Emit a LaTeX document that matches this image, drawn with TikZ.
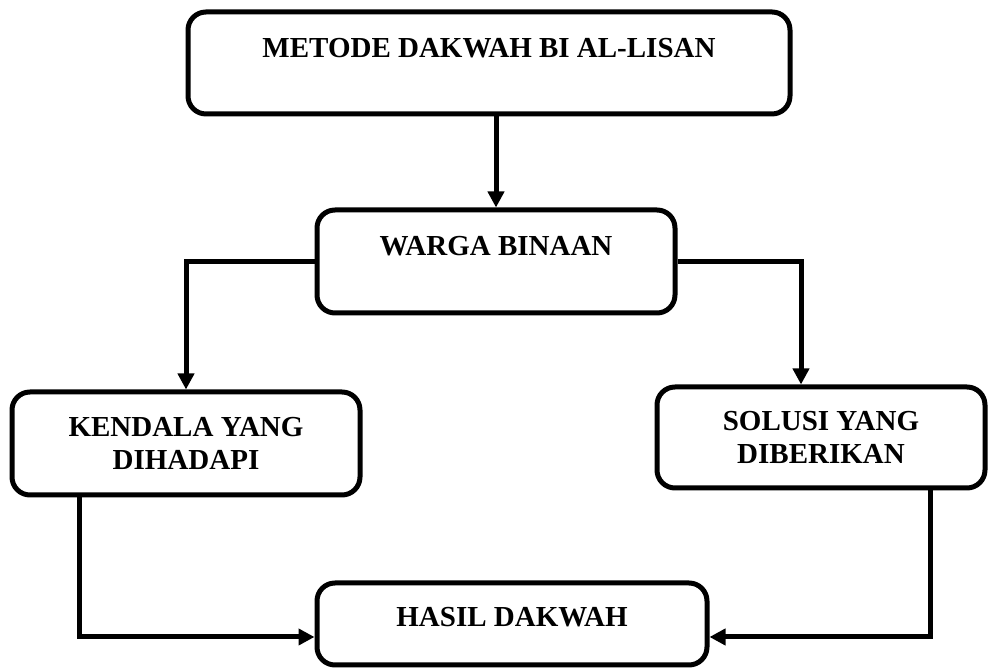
\documentclass[tikz,border=0pt]{standalone}
\usepackage{fontspec}
\setmainfont{Liberation Serif}
\usepackage{tikz}
\usetikzlibrary{arrows.meta}
\usetikzlibrary{calc}
\tikzset{
	>={Triangle[length=16pt, width=16pt]},
	box/.style={draw=black, line width=5pt, rounded corners=18pt, fill=white,
		inner sep=0pt, align=center, font=\fontsize{29}{33}\selectfont\bfseries},
	flow/.style={black, line width=5pt, ->},
}

\begin{document}
\begin{tikzpicture}[x=1pt, y=1pt]
	\useasboundingbox (0,0) rectangle (988,668);
	
	% Boxes
	\node[box, minimum width=602pt, minimum height=102pt, text depth=30pt] (metode) at (489,605) {METODE DAKWAH BI AL-LISAN};
	\node[box, minimum width=358pt, minimum height=103pt, text depth=31pt] (warga) at (496,406.5) {WARGA BINAAN};
	\node[box, minimum width=348pt, minimum height=103pt] (kendala) at (186,224.5) {KENDALA YANG\\DIHADAPI};
	\node[box, minimum width=328pt, minimum height=101pt] (solusi) at (821,230.5) {SOLUSI YANG\\DIBERIKAN};
	\node[box, minimum width=390pt, minimum height=82pt, text depth=14pt] (hasil) at (512,44) {HASIL DAKWAH};
	
	% Arrows between boxes
	\draw[flow] (metode.south -| warga.north) -- (warga.north);
	\draw[flow] (warga.west) -| (kendala.north);
	\draw[flow] (warga.east) -| ([xshift=-20pt]solusi.north);
	\draw[flow] ([xshift=-107pt]kendala.south) |- ([yshift=-13pt]hasil.west);
	\draw[flow] ([xshift=109pt]solusi.south) |- ([yshift=-13pt]hasil.east);
	
\end{tikzpicture}
\end{document}
